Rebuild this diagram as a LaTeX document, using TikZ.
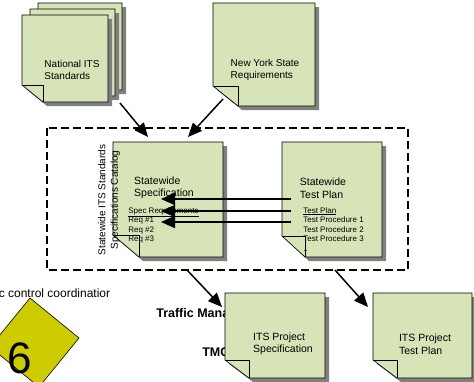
\documentclass[tikz,border=0pt]{standalone}
\usepackage{fontspec}
\setmainfont{Liberation Sans}
\usetikzlibrary{arrows.meta}
\definecolor{notegreen}{RGB}{215,228,184}
\definecolor{noteshadow}{RGB}{128,128,128}
\definecolor{signyellow}{RGB}{204,204,0}
\newcommand{\notepage}[6]{%
  \fill[noteshadow] (#1+4,#2+4) -- (#3+4,#2+4) -- (#3+4,#4+4) -- (#1+#5+4,#4+4) -- (#1+4,#4-#6+4) -- cycle;
  \draw[fill=notegreen] (#1,#2) -- (#3,#2) -- (#3,#4) -- (#1+#5,#4) -- (#1,#4-#6) -- cycle;
  \draw (#1,#4-#6) -- (#1+#5,#4-#6) -- (#1+#5,#4);
}
\begin{document}
\begin{tikzpicture}[x=1pt, y=-1pt, line width=0.6pt,
  bigtext/.style={inner sep=0pt, align=left, font=\fontsize{10}{12.5}\selectfont},
  listtext/.style={inner sep=0pt, align=left, anchor=north west, font=\fontsize{8}{9.5}\selectfont},
  flow/.style={line width=1.5pt, -{Triangle[length=14pt, width=12pt]}}]
  \fill[white] (0,0) rectangle (474,381);
  \useasboundingbox (0,0) rectangle (474,381);
  \clip (0,0) rectangle (474,381);
  \node[anchor=base west, inner sep=0pt, font=\fontsize{12}{14}\selectfont] (ctrl) at (-1.5,297) {c control coordinatior};
  \filldraw[fill=signyellow] (30,298) -- (79,338) -- (39,387) -- (-10,347) -- cycle;
  \node[inner sep=0pt, font=\fontsize{44}{44}\selectfont] (six) at (19.5,358) {6};
  \draw[line width=1.5pt, dash pattern=on 8pt off 4pt] (47,128) rectangle (408,270);
  \notepage{38}{3}{122}{90}{21}{17}
  \notepage{30}{9}{115}{96}{21}{17}
  \notepage{22}{15}{108}{102}{21}{17}
  \notepage{213}{3}{315}{106}{25}{20}
  \node[bigtext] (natl) at (72,70) {National ITS\\Standards};
  \node[bigtext] (nys) at (265,70) {New York State\\Requirements};
  \coordinate (natlout) at (120,103);
  \coordinate (natlin) at (148,137);
  \coordinate (nysout) at (223,99);
  \coordinate (nysin) at (188,137);
  \draw[flow] (natlout) -- (natlin);
  \draw[flow] (nysout) -- (nysin);
  \notepage{113}{142}{223}{257}{26}{22}
  \notepage{282}{142}{382}{257}{23}{21}
  \node[bigtext, font=\fontsize{10.5}{12.5}\selectfont] (spec) at (164,188) {Statewide\\Specification};
  \node[bigtext, font=\fontsize{10.5}{12.5}\selectfont] (tplan) at (323,188) {Statewide\\Test Plan};
  \node[listtext] (reqs) at (128,207) {\underline{Spec Requirements}\\Req \#1\\Req \#2\\Req \#3};
  \node[listtext] (procs) at (303,207) {\underline{Test Plan}\\Test Procedure 1\\Test Procedure 2\\Test Procedure 3\\..};
  \node[bigtext, align=center, rotate=90] (catalog) at (109,200) {Statewide ITS Standards\\Specifications Catalog};
  \coordinate (tp1) at (291,199);
  \coordinate (tp2) at (291,211);
  \coordinate (tp3) at (291,222);
  \coordinate (sr1) at (161,199);
  \coordinate (sr2) at (161,211);
  \coordinate (sr3) at (161,222);
  \draw[flow] (tp1) -- (sr1);
  \draw[flow] (tp2) -- (sr2);
  \draw[flow] (tp3) -- (sr3);
  \node[anchor=west, inner sep=0pt, font=\fontsize{12.5}{14}\selectfont\bfseries] (tm) at (156,314) {Traffic Management};
  \node[anchor=west, inner sep=0pt, font=\fontsize{12.5}{14}\selectfont\bfseries] (tmc) at (202,352) {TMC};
  \notepage{225}{293}{325}{378}{24}{18}
  \notepage{373}{293}{472}{378}{24}{18}
  \node[bigtext, font=\fontsize{10.5}{12.5}\selectfont] (pspec) at (283,344) {ITS Project\\Specification};
  \node[bigtext, font=\fontsize{10.5}{12.5}\selectfont] (ptplan) at (425,344) {ITS Project\\Test Plan};
  \coordinate (boxout1) at (187,270);
  \coordinate (pspecin) at (222,307);
  \coordinate (boxout2) at (335,270);
  \coordinate (ptplanin) at (368,307);
  \draw[flow] (boxout1) -- (pspecin);
  \draw[flow] (boxout2) -- (ptplanin);
\end{tikzpicture}
\end{document}
